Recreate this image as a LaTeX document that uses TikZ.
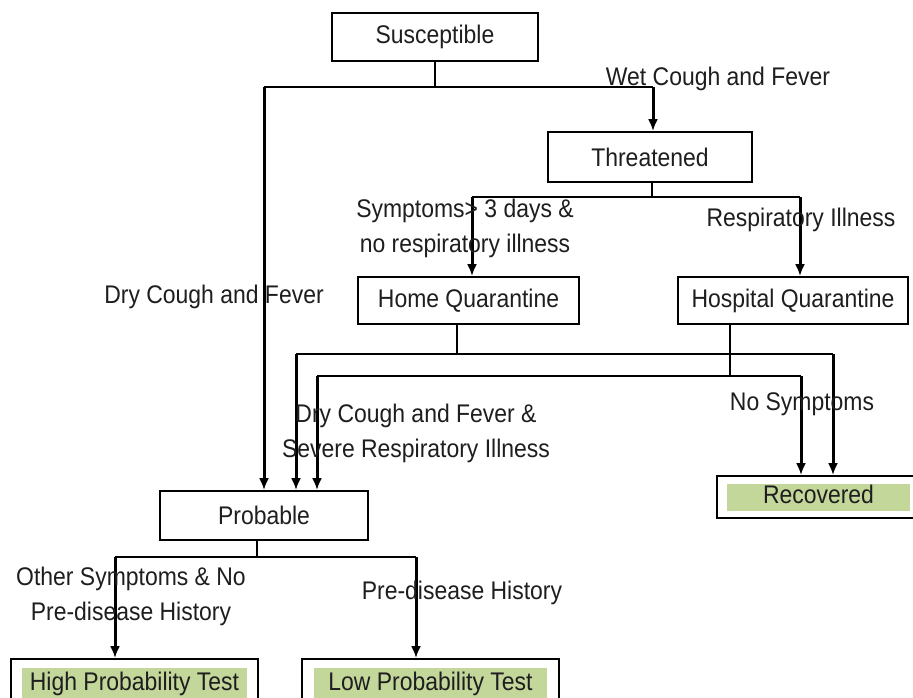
\documentclass[tikz,border=0pt]{standalone}
\usepackage{fontspec}
\setmainfont{Liberation Sans}[FakeStretch=0.9]
\usetikzlibrary{arrows.meta}
\definecolor{gfill}{HTML}{C4D79B}
\definecolor{txt}{HTML}{1E1E1E}
\begin{document}
\begin{tikzpicture}[x=1pt,y=-1pt,
  every node/.style={font=\fontsize{25.5}{35}\selectfont, text=txt},
  box/.style={draw=black, line width=1.7pt, fill=white, inner sep=0pt},
  gbox/.style={fill=gfill, inner sep=0pt, text height=18pt, text depth=5pt},
  lbl/.style={align=center, inner sep=0pt},
  arr/.style={line width=3pt, -{Latex[length=12pt,width=10pt]}},
  hl/.style={line width=2pt},
  stem/.style={line width=1.2pt}]
\useasboundingbox (0,0) rectangle (913,698);
\clip (0,0) rectangle (913,698);
\fill[white] (0,0) rectangle (913,698);

% boxes
\node[box, minimum width=206pt, minimum height=48pt] (sus) at (435,37) {Susceptible};
\node[box, minimum width=204pt, minimum height=50pt] (thr) at (650,157) {Threatened};
\node[box, minimum width=221pt, minimum height=47pt] (home) at (468.5,300.5) {Home Quarantine};
\node[box, minimum width=230pt, minimum height=47pt] (hosp) at (793,300.5) {Hospital Quarantine};
\node[box, minimum width=208pt, minimum height=49pt] (prob) at (264,515.5) {Probable};
\node[box, minimum width=203pt, minimum height=42pt] (rec) at (818.5,497) {};
\node[gbox, minimum width=183pt, minimum height=27pt] (recg) at (818.5,497) {Recovered};
\node[box, minimum width=247pt, minimum height=60pt] (high) at (134.5,689) {};
\node[gbox, minimum width=225pt, minimum height=32pt] (highg) at (134.5,684) {High Probability Test};
\node[box, minimum width=257pt, minimum height=60pt] (low) at (430.5,689) {};
\node[gbox, minimum width=233pt, minimum height=32pt] (lowg) at (430.5,684) {Low Probability Test};

% junction coordinates
\coordinate (sJ) at (435,87);
\coordinate (sL) at (264,87);
\coordinate (sR) at (653,87);
\coordinate (tJ) at (652,197);
\coordinate (tL) at (472,197);
\coordinate (tR) at (800,197);
\coordinate (hJ) at (457,354);
\coordinate (hL) at (296,354);
\coordinate (hR) at (833,354);
\coordinate (qJ) at (730,376);
\coordinate (qL) at (317,376);
\coordinate (qR) at (801,376);
\coordinate (pJ) at (257,557);
\coordinate (pL) at (115,557);
\coordinate (pR) at (416,557);

% Susceptible branches
\draw[stem] (sus.south -| sJ) -- (sJ);
\draw[hl] (sL) -- (sR);
\draw[arr] (sR) -- (sR |- thr.north);
\draw[arr] (sL) -- (sL |- prob.north);

% Threatened branches
\draw[stem] (thr.south -| tJ) -- (tJ);
\draw[hl] (tL) -- (tR);
\draw[arr] (tL) -- (tL |- home.north);
\draw[arr] (tR) -- (tR |- hosp.north);

% Home quarantine branches
\draw[stem] (home.south -| hJ) -- (hJ);
\draw[hl] (hL) -- (hR);
\draw[arr] (hL) -- (hL |- prob.north);
\draw[arr] (hR) -- (hR |- rec.north);

% Hospital quarantine branches
\draw[stem] (hosp.south -| qJ) -- (qJ);
\draw[hl] (qL) -- (qR);
\draw[arr] (qL) -- (qL |- prob.north);
\draw[arr] (qR) -- (qR |- rec.north);

% Probable branches
\draw[stem] (prob.south -| pJ) -- (pJ);
\draw[hl] (pL) -- (pR);
\draw[arr] (pL) -- (pL |- high.north);
\draw[arr] (pR) -- (pR |- low.north);

% labels
\node[lbl] (lwet) at (718,79) {Wet Cough and Fever};
\node[lbl] (lsym) at (465,228) {Symptoms> 3 days \&\\no respiratory illness};
\node[lbl] (lresp) at (801,220) {Respiratory Illness};
\node[lbl] (ldry) at (214,297) {Dry Cough and Fever};
\node[lbl] (lsev) at (416,433) {Dry Cough and Fever \&\\Severe Respiratory Illness};
\node[lbl] (lnos) at (802,404) {No Symptoms};
\node[lbl] (loth) at (131,596) {Other Symptoms \& No\\Pre-disease History};
\node[lbl] (lpre) at (462,593) {Pre-disease History};
\end{tikzpicture}
\end{document}
